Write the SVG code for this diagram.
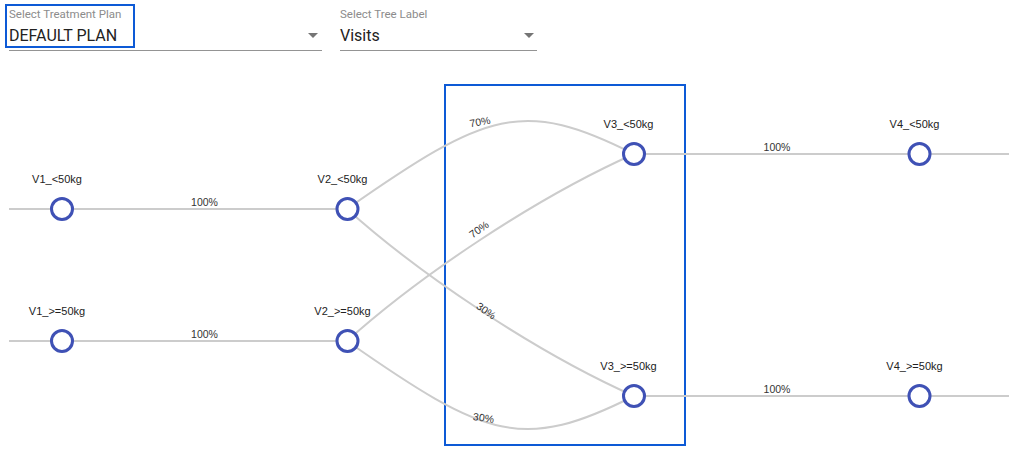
<svg xmlns="http://www.w3.org/2000/svg" width="1009" height="457" viewBox="0 0 1009 457">
<style>
.ui-label{font-family:Roboto,"Liberation Sans",sans-serif;font-size:11.5px;fill:#8c8c8c}
.ui-value{font-family:Roboto,"Liberation Sans",sans-serif;font-size:16px;fill:#222}
.uline{stroke:#949494;stroke-width:1}
.arrow{fill:#757575}
.focus{fill:none;stroke:#0d5ad6;stroke-width:2}
.link{fill:none;stroke:#cccccc;stroke-width:2}
.node circle{fill:#fff;stroke:#3f51b5;stroke-width:3}
.node text{font-family:"Liberation Sans",Arial,sans-serif;font-size:11px;fill:#222;text-anchor:middle}
.elabel{font-family:"Liberation Sans",Arial,sans-serif;font-size:10.5px;fill:#333;text-anchor:middle}
</style>
<rect width="1009" height="457" fill="#fff"/>
<g id="select-plan">
<text class="ui-label" x="9" y="18">Select Treatment Plan</text>
<text class="ui-value" x="9" y="41">DEFAULT PLAN</text>
<line class="uline" x1="9" y1="50.5" x2="322" y2="50.5"/>
<polygon class="arrow" points="308,33 318,33 313,38"/>
<rect class="focus" x="6" y="5" width="128" height="42"/>
</g>
<g id="select-label">
<text class="ui-label" x="340" y="18">Select Tree Label</text>
<text class="ui-value" x="340" y="41">Visits</text>
<line class="uline" x1="340" y1="50.5" x2="537" y2="50.5"/>
<polygon class="arrow" points="524,33 534,33 529,38"/>
</g>
<rect id="highlight" class="focus" x="445" y="85" width="240" height="360"/>
<g id="connectors">
<line class="link" x1="9" y1="209" x2="62" y2="209"/>
<line class="link" x1="9" y1="341" x2="62" y2="341"/>
<line class="link" x1="62" y1="209" x2="347" y2="209"/>
<line class="link" x1="62" y1="341" x2="347" y2="341"/>
<path class="link" d="M347,209 C487,111 523,98 634,154"/>
<path class="link" d="M347,341 C487,439 523,452 634,396"/>
<path class="link" d="M347,209 C417,272 533,351 634,396"/>
<path class="link" d="M347,341 C417,278 533,199 634,154"/>
<line class="link" x1="634" y1="154" x2="919" y2="154"/>
<line class="link" x1="634" y1="396" x2="919" y2="396"/>
<line class="link" x1="919" y1="154" x2="1009" y2="154"/>
<line class="link" x1="919" y1="396" x2="1009" y2="396"/>
<text class="elabel" x="204.5" y="206">100%</text>
<text class="elabel" x="204.5" y="338">100%</text>
<text class="elabel" x="777" y="151">100%</text>
<text class="elabel" x="777" y="393">100%</text>
<text class="elabel" x="480" y="125.5" transform="rotate(-10 480 122)">70%</text>
<text class="elabel" x="479" y="233" transform="rotate(-35 479 229.5)">70%</text>
<text class="elabel" x="486" y="314.5" transform="rotate(35 486 311)">30%</text>
<text class="elabel" x="483.5" y="421.5" transform="rotate(8 483.5 418)">30%</text>
</g>
<g id="V1_lt50" class="node"><circle cx="62" cy="209" r="10.5"/><text x="57" y="182.5">V1_&lt;50kg</text></g>
<g id="V1_ge50" class="node"><circle cx="62" cy="341" r="10.5"/><text x="57" y="314.5">V1_&gt;=50kg</text></g>
<g id="V2_lt50" class="node"><circle cx="347.5" cy="209" r="10.5"/><text x="342.5" y="182.5">V2_&lt;50kg</text></g>
<g id="V2_ge50" class="node"><circle cx="347.5" cy="341" r="10.5"/><text x="342.5" y="314.5">V2_&gt;=50kg</text></g>
<g id="V3_lt50" class="node"><circle cx="634" cy="154" r="10.5"/><text x="628.5" y="127.5">V3_&lt;50kg</text></g>
<g id="V3_ge50" class="node"><circle cx="634" cy="396" r="10.5"/><text x="628.5" y="369.5">V3_&gt;=50kg</text></g>
<g id="V4_lt50" class="node"><circle cx="919.5" cy="154" r="10.5"/><text x="914.5" y="127.5">V4_&lt;50kg</text></g>
<g id="V4_ge50" class="node"><circle cx="919.5" cy="396" r="10.5"/><text x="914.5" y="369.5">V4_&gt;=50kg</text></g>
</svg>
